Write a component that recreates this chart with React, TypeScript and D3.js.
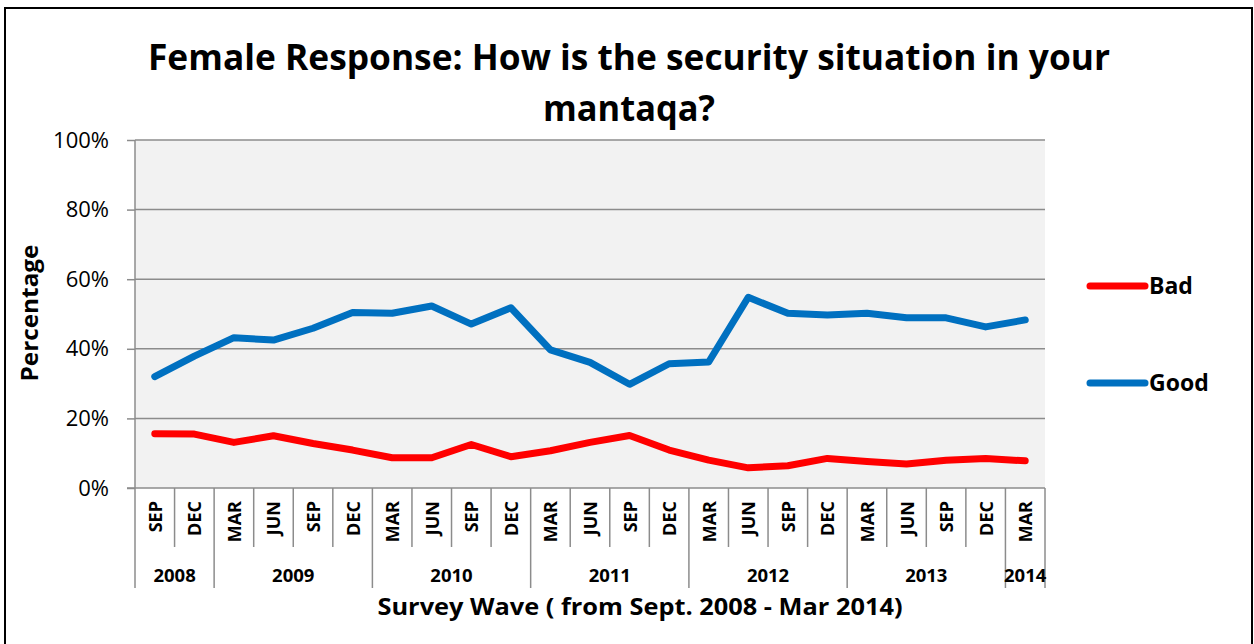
import React, { useEffect, useRef } from 'react';
import * as d3 from 'd3';

const months = [
  'SEP', 'DEC',
  'MAR', 'JUN', 'SEP', 'DEC',
  'MAR', 'JUN', 'SEP', 'DEC',
  'MAR', 'JUN', 'SEP', 'DEC',
  'MAR', 'JUN', 'SEP', 'DEC',
  'MAR', 'JUN', 'SEP', 'DEC',
  'MAR',
];
const years = ['2008', '2009', '2010', '2011', '2012', '2013', '2014'];
const yearCounts = [2, 4, 4, 4, 4, 4, 1];

// percentages
const bad = [
  15.6, 15.5, 13.1, 15.0, 12.8, 10.9, 8.7, 8.7, 12.5, 9.0, 10.7, 13.1,
  15.1, 10.9, 8.0, 5.8, 6.4, 8.5, 7.6, 6.9, 8.0, 8.5, 7.8,
];
const good = [
  32.0, 37.9, 43.2, 42.5, 45.9, 50.4, 50.2, 52.3, 47.1, 51.8, 39.7, 36.1,
  29.8, 35.7, 36.2, 54.8, 50.2, 49.7, 50.2, 48.9, 48.9, 46.3, 48.3,
];
const yTicks = [0, 20, 40, 60, 80, 100];

const seriesNames = ['Bad', 'Good'];
const seriesColors = ['#FF0000', '#0070C0'];

const FONT = "'Open Sans', 'Noto Sans', sans-serif";
const GRAY = '#8c8c8c';

const App = () => {
  const svgRef = useRef<SVGSVGElement>(null);

  useEffect(() => {
    const svg = d3.select(svgRef.current);
    svg.selectAll('*').remove();

    const margin = { left: 135, top: 140, right: 209, bottom: 156 };
    const W = 1254;
    const H = 644;
    const width = W - margin.left - margin.right;
    const height = H - margin.top - margin.bottom;

    // outer frame
    svg
      .append('rect')
      .attr('x', 5)
      .attr('y', 8)
      .attr('width', 1247)
      .attr('height', 660)
      .attr('fill', 'white')
      .attr('stroke', 'black')
      .attr('stroke-width', 2);

    // title
    const title = svg
      .append('text')
      .attr('font-family', FONT)
      .attr('font-weight', 'bold')
      .attr('font-size', '36px')
      .attr('text-anchor', 'middle');
    title
      .append('tspan')
      .attr('x', 629)
      .attr('y', 70)
      .attr('textLength', 962)
      .attr('lengthAdjust', 'spacingAndGlyphs')
      .text('Female Response: How is the security situation in your');
    title
      .append('tspan')
      .attr('x', 629)
      .attr('y', 121)
      .attr('textLength', 172)
      .attr('lengthAdjust', 'spacingAndGlyphs')
      .text('mantaqa?');

    const g = svg
      .append('g')
      .attr('transform', `translate(${margin.left}, ${margin.top})`);

    const x = d3
      .scaleBand<number>()
      .domain(d3.range(months.length))
      .range([0, width]);

    const y = d3.scaleLinear().domain([0, 100]).range([height, 0]);

    // plot background
    g.append('rect')
      .attr('width', width)
      .attr('height', height)
      .attr('fill', '#F2F2F2');

    // gridlines
    g.selectAll('line.grid')
      .data(yTicks.filter((d) => d > 0))
      .enter()
      .append('line')
      .attr('class', 'grid')
      .attr('x1', 0)
      .attr('x2', width)
      .attr('y1', (d) => y(d))
      .attr('y2', (d) => y(d))
      .attr('stroke', GRAY)
      .attr('stroke-width', 1.5);

    // y axis
    const yAxisCall = d3
      .axisLeft(y)
      .tickValues(yTicks)
      .tickSize(8)
      .tickPadding(18)
      .tickFormat((d) => `${d}%`);
    const yAxis = g.append('g').attr('class', 'y axis').call(yAxisCall);
    yAxis.select('.domain').remove();
    yAxis.selectAll('line').attr('stroke', GRAY).attr('stroke-width', 1.5);
    yAxis
      .selectAll('text')
      .attr('font-family', FONT)
      .attr('font-size', '22px')
      .attr('fill', '#000');
    g.append('line')
      .attr('x1', 0)
      .attr('x2', 0)
      .attr('y1', 0)
      .attr('y2', height + 100)
      .attr('stroke', GRAY)
      .attr('stroke-width', 1.5);

    // x axis baseline
    g.append('line')
      .attr('x1', -8)
      .attr('x2', width)
      .attr('y1', height)
      .attr('y2', height)
      .attr('stroke', GRAY)
      .attr('stroke-width', 1.5);

    // category separators: months short, years long
    const yearStarts = Array.from(d3.cumsum(yearCounts));
    const edges = d3.range(1, months.length + 1);
    g.selectAll('line.sep')
      .data(edges)
      .enter()
      .append('line')
      .attr('class', 'sep')
      .attr('x1', (d) => (d < months.length ? x(d)! : width))
      .attr('x2', (d) => (d < months.length ? x(d)! : width))
      .attr('y1', height)
      .attr('y2', (d) => (yearStarts.includes(d) ? height + 100 : height + 59))
      .attr('stroke', GRAY)
      .attr('stroke-width', 1.5);

    // month labels
    g.selectAll('text.month')
      .data(months)
      .enter()
      .append('text')
      .attr('class', 'month')
      .attr(
        'transform',
        (d, i) => `translate(${x(i)! + x.bandwidth() / 2}, ${height + 13}) rotate(-90)`
      )
      .attr('text-anchor', 'end')
      .attr('dominant-baseline', 'central')
      .attr('font-family', FONT)
      .attr('font-weight', 'bold')
      .attr('font-size', '18px')
      .text((d) => d);

    // year labels
    const starts = [0, ...yearStarts.slice(0, -1)];
    g.selectAll('text.year')
      .data(years)
      .enter()
      .append('text')
      .attr('class', 'year')
      .attr('x', (d, i) => {
        const a = x(starts[i])!;
        const b = a + yearCounts[i] * x.bandwidth();
        return (a + b) / 2;
      })
      .attr('y', height + 94)
      .attr('text-anchor', 'middle')
      .attr('font-family', FONT)
      .attr('font-weight', 'bold')
      .attr('font-size', '18.5px')
      .text((d) => d);

    // lines
    const line = d3
      .line<number>()
      .x((d, i) => x(i)! + x.bandwidth() / 2)
      .y((d) => y(d));

    [bad, good].forEach((values, k) => {
      g.append('path')
        .datum(values)
        .attr('d', line)
        .attr('fill', 'none')
        .attr('stroke', seriesColors[k])
        .attr('stroke-width', 7)
        .attr('stroke-linejoin', 'round')
        .attr('stroke-linecap', 'round');
    });

    // axis titles
    svg
      .append('text')
      .attr('x', 640)
      .attr('y', 615)
      .attr('text-anchor', 'middle')
      .attr('font-family', FONT)
      .attr('font-weight', 'bold')
      .attr('font-size', '23px')
      .attr('textLength', 525)
      .attr('lengthAdjust', 'spacingAndGlyphs')
      .text('Survey Wave ( from Sept. 2008 - Mar 2014)');

    svg
      .append('text')
      .attr('transform', 'translate(38, 313) rotate(-90)')
      .attr('text-anchor', 'middle')
      .attr('font-family', FONT)
      .attr('font-weight', 'bold')
      .attr('font-size', '23px')
      .attr('textLength', 137)
      .attr('lengthAdjust', 'spacingAndGlyphs')
      .text('Percentage');

    // legend
    const legendY = [286, 383];
    seriesNames.forEach((name, k) => {
      svg
        .append('line')
        .attr('x1', 1090)
        .attr('x2', 1145)
        .attr('y1', legendY[k])
        .attr('y2', legendY[k])
        .attr('stroke', seriesColors[k])
        .attr('stroke-width', 7)
        .attr('stroke-linecap', 'round');
      svg
        .append('text')
        .attr('x', 1149)
        .attr('y', legendY[k] + 8)
        .attr('font-family', FONT)
        .attr('font-weight', 'bold')
        .attr('font-size', '23px')
        .text(name);
    });
  }, []);

  return (
    <svg
      ref={svgRef}
      width={1254}
      height={644}
      style={{ position: 'fixed', left: 0, top: 0 }}
    ></svg>
  );
};

export default App;
